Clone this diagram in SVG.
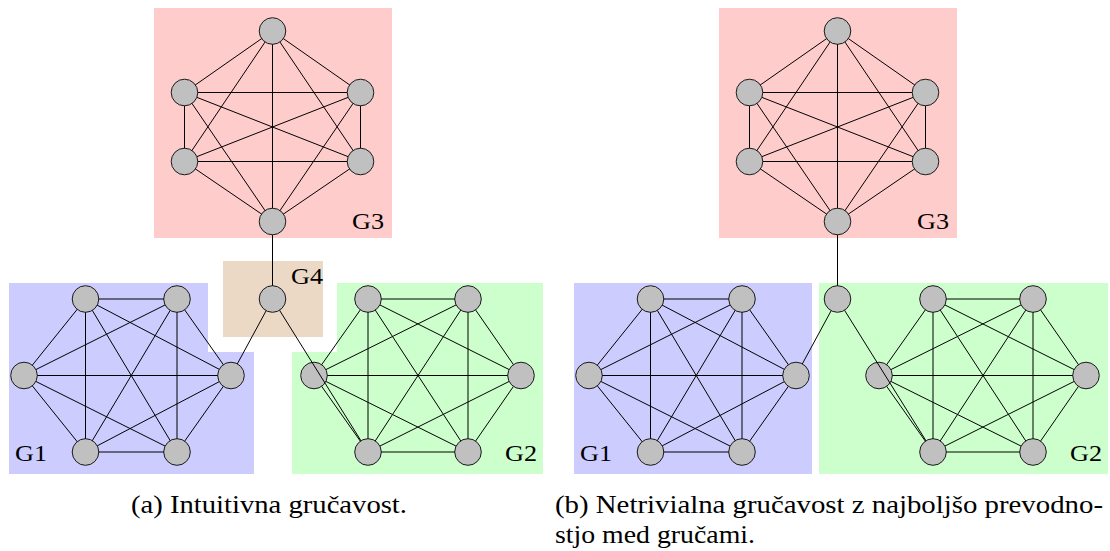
<svg xmlns="http://www.w3.org/2000/svg" xmlns:xlink="http://www.w3.org/1999/xlink" width="1110" height="551" viewBox="0 0 1110 551">
  <style>
    .g1 { fill: #ccccff; }
    .g2 { fill: #ccffcc; }
    .g3 { fill: #ffcccc; }
    .g4 { fill: #ebd9c6; }
    .node circle { fill: #c0c0c0; stroke: #1a1a1a; stroke-width: 1; }
    .edge { fill: none; stroke: #000; stroke-width: 1; }
    .lbl { font-family: "Liberation Serif", "DejaVu Serif", serif; font-size: 24px; fill: #000; }
    .cap { font-family: "Liberation Serif", "DejaVu Serif", serif; font-size: 25px; fill: #000; }
  </style>
  <defs>
    <!-- edges stop at the node borders: holes at every node position (panel-local coordinates) -->
    <mask id="cut" maskUnits="userSpaceOnUse" x="-600" y="0" width="1800" height="551">
      <rect x="-600" y="0" width="1800" height="551" fill="#fff"/>
      <g fill="#000">
        <circle cx="272.5" cy="31" r="13.3"/><circle cx="184.5" cy="92.5" r="13.3"/><circle cx="360.5" cy="92.5" r="13.3"/>
        <circle cx="184.5" cy="161.5" r="13.3"/><circle cx="360.5" cy="161.5" r="13.3"/><circle cx="272.5" cy="221.5" r="13.3"/>
        <circle cx="272.5" cy="299" r="13.3"/>
        <circle cx="85.5" cy="299" r="13.3"/><circle cx="177" cy="299" r="13.3"/><circle cx="24" cy="375.5" r="13.3"/>
        <circle cx="231" cy="375.5" r="13.3"/><circle cx="85.5" cy="452" r="13.3"/><circle cx="177" cy="452" r="13.3"/>
        <circle cx="368" cy="299" r="13.3"/><circle cx="468" cy="299" r="13.3"/><circle cx="314" cy="375.5" r="13.3"/>
        <circle cx="521" cy="375.5" r="13.3"/><circle cx="368" cy="452" r="13.3"/><circle cx="468" cy="452" r="13.3"/>
      </g>
    </mask>
    <!-- same, but the bridge edge is drawn across the left G2 node -->
    <mask id="cut-pass" maskUnits="userSpaceOnUse" x="-600" y="0" width="1800" height="551">
      <rect x="-600" y="0" width="1800" height="551" fill="#fff"/>
      <g fill="#000">
        <circle cx="272.5" cy="299" r="13.3"/><circle cx="368" cy="452" r="13.3"/>
      </g>
    </mask>
    <!-- complete graph K6 on the G1 / G2 hexagon layouts -->
    <path id="k6-g1" d="M85.5 299L177 299M85.5 299L24 375.5M85.5 299L231 375.5M85.5 299L85.5 452M85.5 299L177 452M177 299L24 375.5M177 299L231 375.5M177 299L85.5 452M177 299L177 452M24 375.5L231 375.5M24 375.5L85.5 452M24 375.5L177 452M231 375.5L85.5 452M231 375.5L177 452M85.5 452L177 452"/>
    <path id="k6-g2" d="M368 299L468 299M368 299L314 375.5M368 299L521 375.5M368 299L368 452M368 299L468 452M468 299L314 375.5M468 299L521 375.5M468 299L368 452M468 299L468 452M314 375.5L521 375.5M314 375.5L368 452M314 375.5L468 452M521 375.5L368 452M521 375.5L468 452M368 452L468 452"/>
    <path id="k6-g3" d="M272.5 31L184.5 92.5M272.5 31L360.5 92.5M272.5 31L184.5 161.5M272.5 31L360.5 161.5M272.5 31L272.5 221.5M184.5 92.5L360.5 92.5M184.5 92.5L184.5 161.5M184.5 92.5L360.5 161.5M184.5 92.5L272.5 221.5M360.5 92.5L184.5 161.5M360.5 92.5L360.5 161.5M360.5 92.5L272.5 221.5M184.5 161.5L360.5 161.5M184.5 161.5L272.5 221.5M360.5 161.5L272.5 221.5"/>
  </defs>

  <rect width="1110" height="551" fill="#fff"/>

  <!-- (a) intuitive clustering -->
  <g id="panel-a">
    <g id="regions-a">
      <rect class="g3" x="154" y="8" width="238" height="230"/>
      <rect class="g4" x="223" y="261" width="100" height="76"/>
      <polygon class="g1" points="9,283 208,283 208,352 254,352 254,474 9,474"/>
      <polygon class="g2" points="337,283 543,283 543,474 292,474 292,352 337,352"/>
      <text class="lbl" x="352" y="229" textLength="32" lengthAdjust="spacingAndGlyphs">G3</text>
      <text class="lbl" x="291" y="284" textLength="32" lengthAdjust="spacingAndGlyphs">G4</text>
      <text class="lbl" x="15" y="461" textLength="32" lengthAdjust="spacingAndGlyphs">G1</text>
      <text class="lbl" x="505" y="461" textLength="32" lengthAdjust="spacingAndGlyphs">G2</text>
    </g>
    <g id="nodes-a">
      <g id="a-g3-t" class="node"><circle cx="272.5" cy="31" r="13.3"/></g>
      <g id="a-g3-ul" class="node"><circle cx="184.5" cy="92.5" r="13.3"/></g>
      <g id="a-g3-ur" class="node"><circle cx="360.5" cy="92.5" r="13.3"/></g>
      <g id="a-g3-ll" class="node"><circle cx="184.5" cy="161.5" r="13.3"/></g>
      <g id="a-g3-lr" class="node"><circle cx="360.5" cy="161.5" r="13.3"/></g>
      <g id="a-g3-b" class="node"><circle cx="272.5" cy="221.5" r="13.3"/></g>
      <g id="a-g4-x" class="node"><circle cx="272.5" cy="299" r="13.3"/></g>
      <g id="a-g1-tl" class="node"><circle cx="85.5" cy="299" r="13.3"/></g>
      <g id="a-g1-tr" class="node"><circle cx="177" cy="299" r="13.3"/></g>
      <g id="a-g1-l" class="node"><circle cx="24" cy="375.5" r="13.3"/></g>
      <g id="a-g1-r" class="node"><circle cx="231" cy="375.5" r="13.3"/></g>
      <g id="a-g1-bl" class="node"><circle cx="85.5" cy="452" r="13.3"/></g>
      <g id="a-g1-br" class="node"><circle cx="177" cy="452" r="13.3"/></g>
      <g id="a-g2-tl" class="node"><circle cx="368" cy="299" r="13.3"/></g>
      <g id="a-g2-tr" class="node"><circle cx="468" cy="299" r="13.3"/></g>
      <g id="a-g2-l" class="node"><circle cx="314" cy="375.5" r="13.3"/></g>
      <g id="a-g2-r" class="node"><circle cx="521" cy="375.5" r="13.3"/></g>
      <g id="a-g2-bl" class="node"><circle cx="368" cy="452" r="13.3"/></g>
      <g id="a-g2-br" class="node"><circle cx="468" cy="452" r="13.3"/></g>
    </g>
    <g id="edges-a" class="edge">
      <g mask="url(#cut)">
        <use xlink:href="#k6-g3"/>
        <use xlink:href="#k6-g1"/>
        <use xlink:href="#k6-g2"/>
        <path d="M272.5 221.5L272.5 299M272.5 299L231 375.5"/>
      </g>
      <path mask="url(#cut-pass)" d="M272.5 299L368 452"/>
    </g>
  </g>

  <!-- (b) clustering with the best conductance -->
  <g id="panel-b" transform="translate(565 0)">
    <g id="regions-b">
      <rect class="g3" x="154" y="8" width="238" height="230"/>
      <rect class="g1" x="9" y="283" width="238" height="191"/>
      <rect class="g2" x="254" y="283" width="289" height="191"/>
      <text class="lbl" x="352" y="229" textLength="32" lengthAdjust="spacingAndGlyphs">G3</text>
      <text class="lbl" x="15" y="461" textLength="32" lengthAdjust="spacingAndGlyphs">G1</text>
      <text class="lbl" x="505" y="461" textLength="32" lengthAdjust="spacingAndGlyphs">G2</text>
    </g>
    <g id="nodes-b">
      <g id="b-g3-t" class="node"><circle cx="272.5" cy="31" r="13.3"/></g>
      <g id="b-g3-ul" class="node"><circle cx="184.5" cy="92.5" r="13.3"/></g>
      <g id="b-g3-ur" class="node"><circle cx="360.5" cy="92.5" r="13.3"/></g>
      <g id="b-g3-ll" class="node"><circle cx="184.5" cy="161.5" r="13.3"/></g>
      <g id="b-g3-lr" class="node"><circle cx="360.5" cy="161.5" r="13.3"/></g>
      <g id="b-g3-b" class="node"><circle cx="272.5" cy="221.5" r="13.3"/></g>
      <g id="b-g2-x" class="node"><circle cx="272.5" cy="299" r="13.3"/></g>
      <g id="b-g1-tl" class="node"><circle cx="85.5" cy="299" r="13.3"/></g>
      <g id="b-g1-tr" class="node"><circle cx="177" cy="299" r="13.3"/></g>
      <g id="b-g1-l" class="node"><circle cx="24" cy="375.5" r="13.3"/></g>
      <g id="b-g1-r" class="node"><circle cx="231" cy="375.5" r="13.3"/></g>
      <g id="b-g1-bl" class="node"><circle cx="85.5" cy="452" r="13.3"/></g>
      <g id="b-g1-br" class="node"><circle cx="177" cy="452" r="13.3"/></g>
      <g id="b-g2-tl" class="node"><circle cx="368" cy="299" r="13.3"/></g>
      <g id="b-g2-tr" class="node"><circle cx="468" cy="299" r="13.3"/></g>
      <g id="b-g2-l" class="node"><circle cx="314" cy="375.5" r="13.3"/></g>
      <g id="b-g2-r" class="node"><circle cx="521" cy="375.5" r="13.3"/></g>
      <g id="b-g2-bl" class="node"><circle cx="368" cy="452" r="13.3"/></g>
      <g id="b-g2-br" class="node"><circle cx="468" cy="452" r="13.3"/></g>
    </g>
    <g id="edges-b" class="edge">
      <g mask="url(#cut)">
        <use xlink:href="#k6-g3"/>
        <use xlink:href="#k6-g1"/>
        <use xlink:href="#k6-g2"/>
        <path d="M272.5 221.5L272.5 299M272.5 299L231 375.5"/>
      </g>
      <path mask="url(#cut-pass)" d="M272.5 299L368 452"/>
    </g>
  </g>

  <!-- sub-captions -->
  <g id="captions">
    <text class="cap" x="131" y="513" textLength="276" lengthAdjust="spacingAndGlyphs">(a) Intuitivna gručavost.</text>
    <text class="cap" x="555" y="513" textLength="548" lengthAdjust="spacingAndGlyphs">(b) Netrivialna gručavost z najboljšo prevodno-</text>
    <text class="cap" x="555" y="543" textLength="200" lengthAdjust="spacingAndGlyphs">stjo med gručami.</text>
  </g>
</svg>
